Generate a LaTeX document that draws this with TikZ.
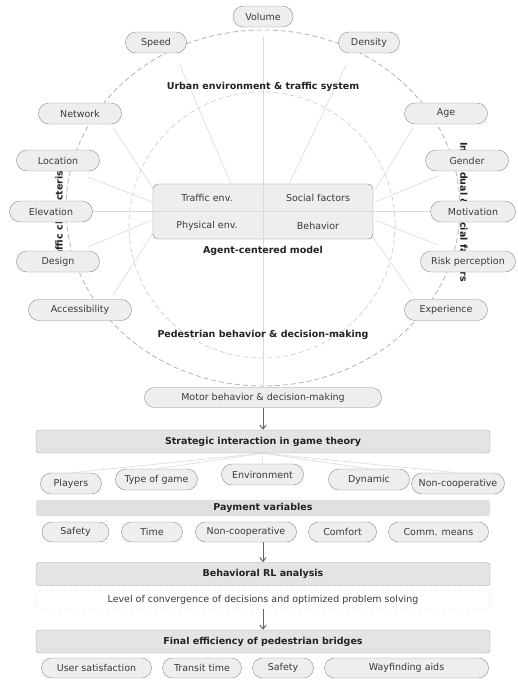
\documentclass[tikz,border=0pt]{standalone}
\usepackage{fontspec}
\setmainfont{DejaVu Sans}
\usepackage{tikz}
\usetikzlibrary{arrows.meta,positioning,shapes.misc,calc}
\definecolor{cfill}{HTML}{EEEEEE}
\definecolor{cbar}{HTML}{E4E4E4}
\definecolor{cpay}{HTML}{E0E0E0}
\definecolor{cedge}{HTML}{8C8C8C}
\definecolor{cring}{HTML}{B4B4B4}
\definecolor{cinner}{HTML}{D0D0D0}
\definecolor{cspoke}{HTML}{DADADA}
\definecolor{ctext}{HTML}{3A3A3A}
\definecolor{chead}{HTML}{222222}
\definecolor{carrow}{HTML}{666666}
\newcommand{\lblfont}{\fontsize{9.5}{11}\selectfont}
\tikzset{
  pill/.style={rounded rectangle, draw=cedge, fill=cfill, text=ctext, minimum height=21pt, inner xsep=3pt, inner ysep=0pt, font=\lblfont},
  spill/.style={pill, minimum height=20pt},
  bar/.style={draw=cedge!80, fill=cbar, rounded corners=3pt, minimum width=454pt, minimum height=23pt, inner sep=0pt, text=chead, font=\lblfont\bfseries},
  paybar/.style={bar, draw=cpay, fill=cpay, minimum height=16pt},
  convbox/.style={draw=cinner, dashed, fill=white, rounded corners=4pt, minimum width=454pt, minimum height=18pt, inner sep=0pt, text=ctext, font=\lblfont},
  core/.style={draw=cedge!90!black, fill=cfill, rounded corners=5pt, minimum width=220pt, minimum height=55pt, inner sep=0pt},
  cell/.style={text=ctext, font=\lblfont},
  head/.style={text=chead, font=\lblfont\bfseries},
  side/.style={text=chead, font=\lblfont\bfseries},
  ring/.style={draw=cring, dash pattern=on 5pt off 3pt, line width=0.8pt},
  inring/.style={draw=cinner, dash pattern=on 5pt off 3pt, line width=0.7pt},
  spoke/.style={draw=cspoke, line width=0.6pt},
  flow/.style={draw=carrow, line width=1pt, -{Straight Barb[length=1.4mm,width=2.2mm]}},
}

\begin{document}
\begin{tikzpicture}[x=1pt,y=-1pt]
\useasboundingbox (0,0) rectangle (517,680);
% rings and side texts
\draw[ring] (263,208) ellipse [x radius=197pt, y radius=178pt];
\draw[inring] (262,225) circle [radius=133pt];
\node[side, rotate=90] (ltitle) at (59,209) {Traffic characteristics};
\node[side, rotate=-90] (rtitle) at (464,212) {Individual \& social factors};

% outer factors
\node[pill, minimum width=66pt] (vol) at (263,16.5) {Volume};
\node[pill, minimum width=67pt] (speed) at (156,42.5) {Speed};
\node[pill, minimum width=67pt] (dens) at (369,42.5) {Density};
\node[pill, minimum width=89pt] (netw) at (80,113.5) {Network};
\node[pill, minimum width=89pt] (age) at (446,113.5) {Age};
\node[pill, minimum width=89pt] (loc) at (58,160.5) {Location};
\node[pill, minimum width=89pt] (gender) at (467,160.5) {Gender};
\node[pill, minimum width=89pt] (elev) at (51,211.5) {Elevation};
\node[pill, minimum width=91pt] (motiv) at (473,211.5) {Motivation};
\node[pill, minimum width=89pt] (design) at (58,261.5) {Design};
\node[pill, minimum width=101pt] (risk) at (468,261.5) {Risk perception};
\node[pill, minimum width=109pt] (access) at (80,310) {Accessibility};
\node[pill, minimum width=89pt] (exper) at (446,310) {Experience};

\node[spill, minimum width=243pt] (motor) at (263,397.5) {Motor behavior \& decision-making};
\coordinate (mid) at (263,211.5);

% spokes into the agent model
\draw[spoke] ([yshift=-10pt]vol.south) -- (motor.north);
\draw[spoke] (elev.east) -- (motiv.west);
\draw[spoke] ([shift={(24pt,-22.5pt)}]speed.center) -- ([shift={(-30pt,23.5pt)}]mid);
\draw[spoke] ([shift={(-23pt,-22.5pt)}]dens.center) -- ([shift={(24pt,23.5pt)}]mid);
\draw[spoke] ([shift={(33pt,-14.5pt)}]netw.center) -- ([shift={(-110pt,23.5pt)}]mid);
\draw[spoke] ([shift={(-33pt,-14.5pt)}]age.center) -- ([shift={(112pt,21.5pt)}]mid);
\draw[spoke] ([shift={(30pt,-16.5pt)}]loc.center) -- ([shift={(-111pt,9.5pt)}]mid);
\draw[spoke] ([shift={(-29pt,-15.5pt)}]gender.center) -- ([shift={(112pt,9.5pt)}]mid);
\draw[spoke] ([shift={(30pt,14.5pt)}]design.center) -- ([shift={(-111pt,-8.5pt)}]mid);
\draw[spoke] ([shift={(-30pt,16.5pt)}]risk.center) -- ([shift={(112pt,-8.5pt)}]mid);
\draw[spoke] ([shift={(33pt,15pt)}]access.center) -- ([shift={(-106pt,-15.5pt)}]mid);
\draw[spoke] ([shift={(-34pt,17pt)}]exper.center) -- ([shift={(107pt,-21.5pt)}]mid);

% agent-centered model
\node[core] (model) at (mid) {};
\draw[spoke] (model.north) -- (model.south);
\draw[spoke] (model.west) -- (model.east);
\node[cell] (traf) at (207,198) {Traffic env.};
\node[cell] (soc) at (318,198) {Social factors};
\node[cell] (phys) at (207,226) {Physical env.};
\node[cell] (behav) at (318,226) {Behavior};
\node[head] (urban) at (263,87) {Urban environment \& traffic system};
\node[head] (agent) at (263,251) {Agent-centered model};
\node[head] (ped) at (263,335) {Pedestrian behavior \& decision-making};

% game theory
\node[bar] (strat) at (263,441.5) {Strategic interaction in game theory};
\draw[flow] (motor.south) -- (strat.north);
\node[pill, minimum width=67pt] (players) at (71,483.5) {Players};
\node[pill, minimum width=88pt] (gtype) at (156.5,479.5) {Type of game};
\node[pill, minimum width=88pt] (envir) at (262.5,474.5) {Environment};
\node[pill, minimum width=87pt] (dyn) at (369,479.5) {Dynamic};
\node[pill, minimum width=99pt] (noncoop) at (458,483.5) {Non-cooperative};
\foreach \n in {players,gtype,envir,dyn,noncoop}
  \draw[spoke] (strat.south) -- (\n.north);

\node[paybar] (pay) at (263,508) {Payment variables};
\node[spill, minimum width=73pt] (psafe) at (75.5,532) {Safety};
\node[spill, minimum width=67pt] (ptime) at (152,532) {Time};
\node[spill, minimum width=107pt] (pnonc) at (246,532) {Non-cooperative};
\node[spill, minimum width=74pt] (pcomf) at (342.5,532) {Comfort};
\node[spill, minimum width=106pt] (pcomm) at (438.5,532) {Comm. means};

% RL and outcome
\node[bar] (rl) at (263,574) {Behavioral RL analysis};
\draw[flow] (rl.north |- pnonc.south) -- (rl.north);
\node[convbox] (conv) at (263,600) {Level of convergence of decisions and optimized problem solving};
\node[bar] (final) at (263,641.5) {Final efficiency of pedestrian bridges};
\draw[flow] (conv.south) -- (final.north);
\node[spill, minimum width=116pt] (usat) at (96.5,668) {User satisfaction};
\node[spill, minimum width=85pt] (ttime) at (202,668) {Transit time};
\node[spill, minimum width=67pt] (fsafe) at (283,668) {Safety};
\node[spill, minimum width=170pt] (wayf) at (406.5,668) {Wayfinding aids};
\end{tikzpicture}
\end{document}
